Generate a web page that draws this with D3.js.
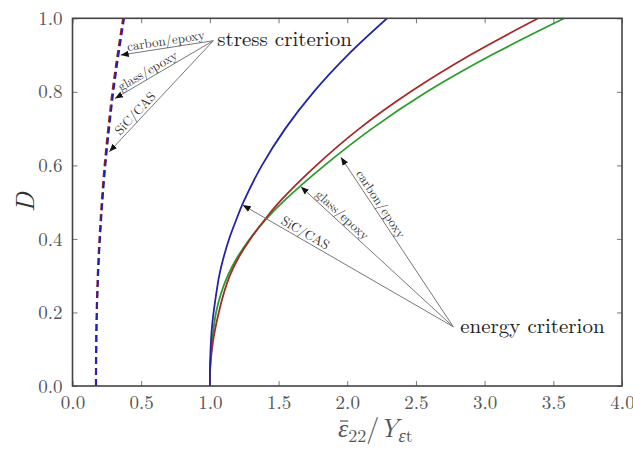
<!DOCTYPE html>
<html>
<head>
<meta charset="utf-8">
<script src="https://cdn.jsdelivr.net/npm/d3@7"></script>
<style>
  body { margin: 0; background: #fff; }
</style>
</head>
<body>
<div id="chart"></div>
<script>
// damage levels D and the strain where each criterion is reached
const damage = [0, 0.05, 0.1, 0.15, 0.2, 0.25, 0.3, 0.35, 0.4, 0.45, 0.5, 0.6, 0.7, 0.8, 0.9, 1.0]
const energySiC    = [1.0, 1.001, 1.005, 1.013, 1.027, 1.046, 1.068, 1.1, 1.14, 1.19, 1.244, 1.379, 1.549, 1.756, 2.003, 2.29]
const energyGlass  = [1.0, 1.003, 1.015, 1.036, 1.065, 1.1, 1.145, 1.21, 1.295, 1.395, 1.505, 1.775, 2.088, 2.461, 2.895, 3.39]
const energyCarbon = [1.0, 1.002, 1.012, 1.025, 1.045, 1.08, 1.13, 1.2, 1.29, 1.4, 1.53, 1.835, 2.18, 2.58, 3.05, 3.58]
const stressBlue   = [0.172, 0.1722, 0.1735, 0.175, 0.178, 0.182, 0.187, 0.193, 0.2005, 0.209, 0.218, 0.24, 0.267, 0.298, 0.335, 0.376]
const stressRed    = [0.171, 0.1711, 0.172, 0.1733, 0.176, 0.1795, 0.184, 0.1895, 0.1965, 0.2045, 0.213, 0.234, 0.2605, 0.291, 0.328, 0.369]

const xTicks = [0, 0.5, 1, 1.5, 2, 2.5, 3, 3.5, 4]
const yTicks = [0, 0.2, 0.4, 0.6, 0.8, 1.0]

// annotations: arrow head (on curve), shared tail, label
const stressNotes = [
  { label: 'carbon/epoxy', head: [0.351, 0.90], at: 0.5 },
  { label: 'glass/epoxy', head: [0.309, 0.782], at: 0.37 },
  { label: 'SiC/CAS', head: [0.268, 0.637], at: 0.3 }
]
const stressTail = [1.025, 0.939]
const energyNotes = [
  { label: 'SiC/CAS', head: [1.239, 0.492], at: 0.28 },
  { label: 'glass/epoxy', head: [1.663, 0.542], at: 0.24 },
  { label: 'carbon/epoxy', head: [1.954, 0.622], at: 0.3 }
]
const energyTail = [2.772, 0.161]

const FONT = '"Latin Modern Roman", "Liberation Serif", serif'
const width = 633, height = 451
const margin = { top: 18.3, right: 11, bottom: 65, left: 72.5 }
const w = width - margin.left - margin.right
const h = height - margin.top - margin.bottom

const svg = d3.select('#chart').append('svg')
  .attr('width', width).attr('height', height)

const x = d3.scaleLinear().domain([0, 4]).range([margin.left, margin.left + w])
const y = d3.scaleLinear().domain([0, 1]).range([margin.top + h, margin.top])

const defs = svg.append('defs')
defs.append('clipPath').attr('id', 'plotclip')
  .append('rect').attr('x', margin.left).attr('y', margin.top).attr('width', w).attr('height', h)

defs.append('marker')
  .attr('id', 'head').attr('viewBox', '0 0 10 10')
  .attr('refX', 10).attr('refY', 5)
  .attr('markerWidth', 8).attr('markerHeight', 8)
  .attr('markerUnits', 'userSpaceOnUse')
  .attr('orient', 'auto')
  .append('path').attr('d', 'M0,1 L10,5 L0,9 Z').attr('fill', '#111')

// ticks, inward on all four sides
const axes = [
  { gen: d3.axisBottom(x), tr: 'translate(0,' + (margin.top + h) + ')', vals: xTicks, labels: true },
  { gen: d3.axisTop(x), tr: 'translate(0,' + margin.top + ')', vals: xTicks, labels: false },
  { gen: d3.axisLeft(y), tr: 'translate(' + margin.left + ',0)', vals: yTicks, labels: true },
  { gen: d3.axisRight(y), tr: 'translate(' + (margin.left + w) + ',0)', vals: yTicks, labels: false }
]
axes.forEach(function(a) {
  const g = svg.append('g').attr('transform', a.tr)
    .call(a.gen.tickValues(a.vals).tickSizeInner(-5).tickSizeOuter(0).tickPadding(10).tickFormat(d3.format('.1f')))
  g.select('.domain').remove()
  g.selectAll('.tick line').attr('stroke', '#777').attr('stroke-width', 1)
  g.selectAll('.tick text').attr('fill', '#555')
    .style('font-family', FONT).style('font-size', '19px')
  if (!a.labels) g.selectAll('.tick text').remove()
})

const lines = svg.append('g').attr('clip-path', 'url(#plotclip)')
const line = function(xs) {
  return d3.line()
    .x(function(d, i) { return x(xs[i]) })
    .y(function(d) { return y(d) })
    .curve(d3.curveCatmullRom.alpha(0.5))(damage)
}

lines.append('path').attr('d', line(stressRed))
  .attr('fill', 'none').attr('stroke', '#9a1c1c').attr('stroke-width', 2.2).attr('stroke-dasharray', '7,4')
lines.append('path').attr('d', line(stressBlue))
  .attr('fill', 'none').attr('stroke', '#2020b8').attr('stroke-width', 1.8).attr('stroke-dasharray', '7,4')

const energySeries = [
  { xs: energyCarbon, color: '#2a9d2a' },
  { xs: energyGlass, color: '#a52a2a' },
  { xs: energySiC, color: '#2424a6' }
]
lines.selectAll('.energy').data(energySeries).enter().append('path')
  .attr('class', 'energy')
  .attr('d', function(d) { return line(d.xs) })
  .attr('fill', 'none').attr('stroke', function(d) { return d.color }).attr('stroke-width', 1.8)

// frame
svg.append('rect').attr('x', margin.left).attr('y', margin.top).attr('width', w).attr('height', h)
  .attr('fill', 'none').attr('stroke', '#444').attr('stroke-width', 1.6)

// annotations
function annotate(notes, tail) {
  const tx = x(tail[0]), ty = y(tail[1])
  notes.forEach(function(n) {
    const hx = x(n.head[0]), hy = y(n.head[1])
    svg.append('line')
      .attr('x1', tx).attr('y1', ty).attr('x2', hx).attr('y2', hy)
      .attr('stroke', '#777').attr('stroke-width', 1)
      .attr('marker-end', 'url(#head)')
    const ang = Math.atan2(ty - hy, tx - hx) * 180 / Math.PI
    const px = hx + (tx - hx) * n.at, py = hy + (ty - hy) * n.at
    svg.append('text')
      .attr('transform', 'translate(' + px + ',' + py + ') rotate(' + ang + ')')
      .attr('y', -3).attr('text-anchor', 'middle')
      .style('font-family', FONT).style('font-size', '13px').attr('fill', '#333')
      .text(n.label)
  })
}
annotate(stressNotes, stressTail)
annotate(energyNotes, energyTail)

svg.append('text').attr('x', x(stressTail[0]) + 4).attr('y', y(stressTail[1]) + 5)
  .style('font-family', FONT).style('font-size', '21px').attr('fill', '#222').text('stress criterion')
svg.append('text').attr('x', x(energyTail[0]) + 7).attr('y', y(energyTail[1]) + 6)
  .style('font-family', FONT).style('font-size', '21px').attr('fill', '#222').text('energy criterion')

// axis labels
svg.append('text')
  .attr('transform', 'translate(34,' + (margin.top + h / 2) + ') rotate(-90)')
  .attr('text-anchor', 'middle')
  .style('font-family', FONT).style('font-size', '26px').style('font-style', 'italic').attr('fill', '#333')
  .text('D')

const xl = svg.append('text').attr('x', 338).attr('y', 437).attr('fill', '#555')
  .style('font-family', FONT).style('font-size', '26px')
xl.append('tspan').style('font-style', 'italic').text('ε')
xl.append('tspan').attr('dy', 5).style('font-size', '18px').text('22')
xl.append('tspan').attr('dy', -5).text('/')
xl.append('tspan').style('font-style', 'italic').text('Y')
xl.append('tspan').attr('dy', 5).style('font-size', '18px').style('font-style', 'italic').text('ε')
xl.append('tspan').style('font-size', '18px').text('t')
// bar over epsilon
const eps = xl.node().getExtentOfChar(0)
svg.append('line')
  .attr('x1', eps.x + 2).attr('x2', eps.x + eps.width)
  .attr('y1', 437 - 16).attr('y2', 437 - 16)
  .attr('stroke', '#555').attr('stroke-width', 1.2)
</script>
</body>
</html>
